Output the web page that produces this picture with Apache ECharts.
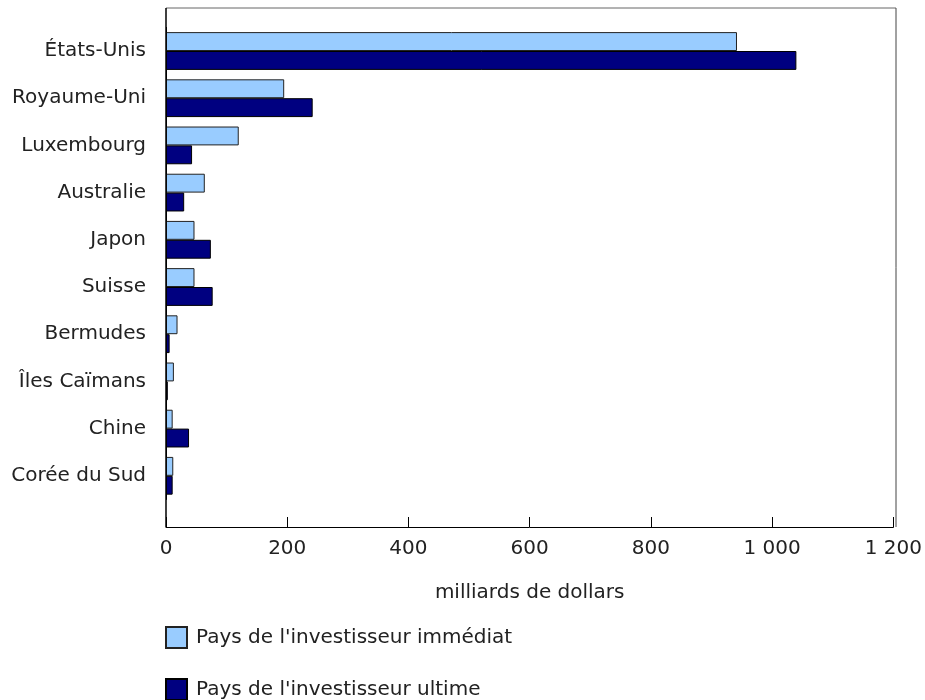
<!DOCTYPE html>
<html>
<head>
<meta charset="utf-8">
<script src="https://cdn.jsdelivr.net/npm/echarts@6/dist/echarts.min.js"></script>
<style>html,body{margin:0;padding:0;background:#fff;}#c{width:925px;height:700px;}</style>
</head>
<body>
<div id="c"></div>
<script>
var categories = ["États-Unis", "Royaume-Uni", "Luxembourg", "Australie", "Japon", "Suisse", "Bermudes", "Îles Caïmans", "Chine", "Corée du Sud"];
var immediat = [942, 195, 120, 64, 47, 47, 19, 13, 11, 12];
var ultime = [1040, 242, 43, 30, 74, 77, 6, 3, 38, 11];
var seriesNames = ["Pays de l'investisseur immédiat", "Pays de l'investisseur ultime"];
var axisName = "milliards de dollars";

var FONT = "DejaVu Sans";
var FS = 20;
var chart = echarts.init(document.getElementById('c'), null, {renderer: 'canvas'});
var L = 166, R = 896, T = 8, B = 527;
var gridTop = 27.4, gridBottomY = 499.4;
var legendBase = {
  orient: 'vertical', left: 165, padding: 0, itemWidth: 21, itemHeight: 21,
  icon: 'rect',
  textStyle: {fontFamily: FONT, fontSize: FS, color: '#222', padding: [0, 0, 0, 4]}
};
chart.setOption({
  animation: false,
  textStyle: {fontFamily: FONT},
  grid: {left: L, right: 925 - R, top: gridTop, bottom: 700 - gridBottomY, containLabel: false},
  xAxis: {
    type: 'value', min: 0, max: 1200, interval: 200,
    offset: B - gridBottomY,
    axisLine: {show: true, lineStyle: {color: '#000', width: 1}},
    axisTick: {show: true, inside: true, length: 10, lineStyle: {color: '#000'}},
    splitLine: {show: false},
    axisLabel: {fontFamily: FONT, fontSize: FS, color: '#222', margin: 12,
      formatter: function (v) { return String(v).replace(/\B(?=(\d{3})+(?!\d))/g, ' '); }},
    name: axisName, nameLocation: 'middle', nameGap: 56,
    nameTextStyle: {fontFamily: FONT, fontSize: FS, color: '#222'}
  },
  yAxis: {
    type: 'category', data: categories, inverse: true,
    axisLine: {show: true, lineStyle: {color: '#000'}},
    axisTick: {show: false},
    axisLabel: {fontFamily: FONT, fontSize: FS, color: '#222', margin: 20}
  },
  legend: [
    Object.assign({}, legendBase, {top: 626, data: [seriesNames[0]]}),
    Object.assign({}, legendBase, {top: 678, data: [seriesNames[1]]})
  ],
  series: [
    {name: seriesNames[0], type: 'bar', data: immediat, barGap: '0%', barCategoryGap: '20%',
     itemStyle: {color: '#99CCFF', borderColor: '#222', borderWidth: 1}},
    {name: seriesNames[1], type: 'bar', data: ultime, barGap: '0%', barCategoryGap: '20%',
     itemStyle: {color: '#000080', borderColor: '#000', borderWidth: 1}}
  ],
  graphic: [
    {type: 'line', shape: {x1: L, y1: T, x2: R, y2: T}, style: {stroke: '#666', lineWidth: 1}, z: 10},
    {type: 'line', shape: {x1: R, y1: T, x2: R, y2: B}, style: {stroke: '#444', lineWidth: 1}, z: 10},
    {type: 'line', shape: {x1: L, y1: T, x2: L, y2: B}, style: {stroke: '#000', lineWidth: 1.5}, z: 10}
  ]
});
</script>
</body>
</html>
